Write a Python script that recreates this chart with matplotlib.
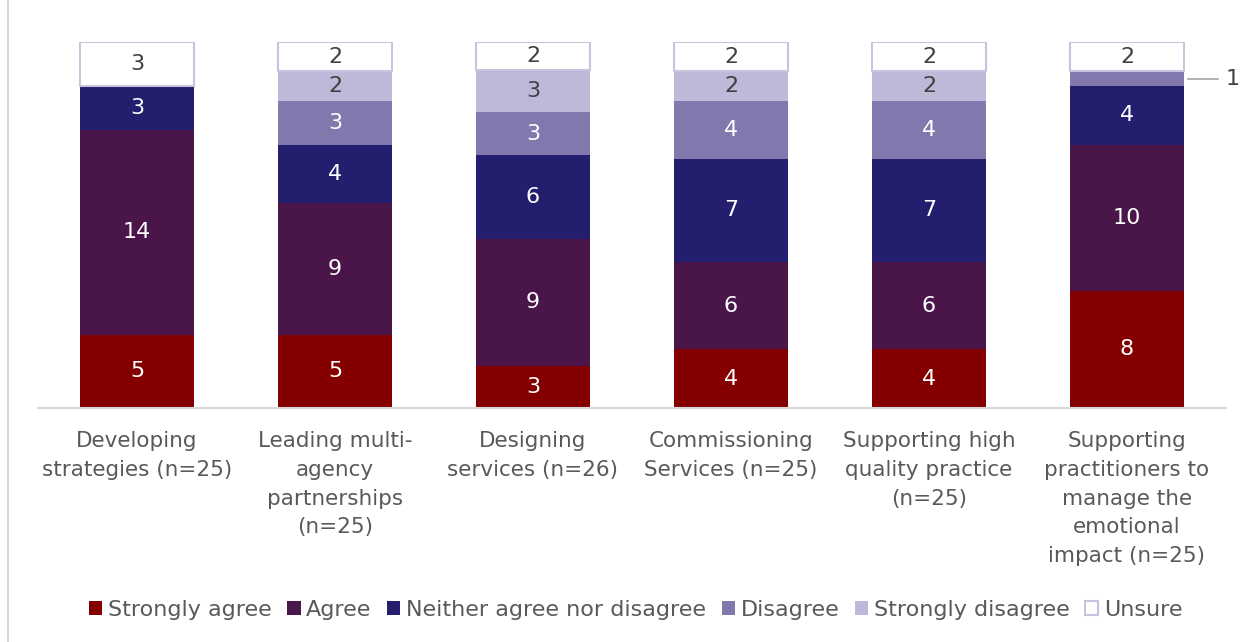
import matplotlib.pyplot as plt
import numpy as np
from matplotlib.patches import Rectangle

plt.rcParams['font.family'] = ['DejaVu Sans']

categories = [
    "Developing\nstrategies (n=25)",
    "Leading multi-\nagency\npartnerships\n(n=25)",
    "Designing\nservices (n=26)",
    "Commissioning\nServices (n=25)",
    "Supporting high\nquality practice\n(n=25)",
    "Supporting\npractitioners to\nmanage the\nemotional\nimpact (n=25)",
]
responses = ["Strongly agree", "Agree", "Neither agree nor disagree",
             "Disagree", "Strongly disagree", "Unsure"]
strongly_agree = [5, 5, 3, 4, 4, 8]
agree = [14, 9, 9, 6, 6, 10]
neither = [3, 4, 6, 7, 7, 4]
disagree = [0, 3, 3, 4, 4, 1]
strongly_disagree = [0, 2, 3, 2, 2, 0]
unsure = [3, 2, 2, 2, 2, 2]

colors = ["#840000", "#4A1548", "#231E6E", "#8278AE", "#BFB8D9", "#FFFFFF"]
label_colors = ["white", "white", "white", "white", "#404040", "#404040"]

series = np.array([strongly_agree, agree, neither, disagree,
                   strongly_disagree, unsure], dtype=float)
totals = series.sum(axis=0)
shares = series / totals

fig = plt.figure(figsize=(12.44, 6.42), dpi=100)
ax = fig.add_axes([0.0305, 0.3645, 0.955, 0.570])
x = np.arange(len(categories))
width = 0.575
bottom = np.zeros(len(categories))
for i, name in enumerate(responses):
    edge = "#C9C3E0" if name == "Unsure" else "none"
    lw = 1.5 if name == "Unsure" else 0
    ax.bar(x, shares[i], width, bottom=bottom, color=colors[i],
           edgecolor=edge, linewidth=lw, label=name)
    for j in range(len(categories)):
        v = series[i, j]
        if v == 0:
            continue
        yc = bottom[j] + shares[i, j] / 2
        if v == 1:
            # small slice: label outside with a leader line
            ax.plot([x[j] + width / 2 + 0.02, x[j] + width / 2 + 0.17], [yc, yc],
                    color="#A6A6A6", lw=1.2, clip_on=False)
            ax.text(x[j] + width / 2 + 0.245, yc, f"{int(v)}", ha="center",
                    va="center", fontsize=16, color="#404040")
        else:
            ax.text(x[j], yc, f"{int(v)}", ha="center", va="center",
                    fontsize=16, color=label_colors[i])
    bottom += shares[i]

ax.set_xlim(-0.5, len(categories) - 0.5)
ax.set_ylim(0, 1)
ax.set_xticks(x)
ax.set_xticklabels(categories, fontsize=15.5, color="#595959", linespacing=1.55)
ax.tick_params(axis="x", length=0, pad=16.5)
ax.set_yticks([])
for s in ["top", "right", "left"]:
    ax.spines[s].set_visible(False)
ax.spines["bottom"].set_color("#D9D9D9")
ax.spines["bottom"].set_linewidth(1.5)

handles, labels = ax.get_legend_handles_labels()
leg = fig.legend(handles, labels, loc="center", bbox_to_anchor=(0.511, 0.05),
                 ncol=6, frameon=False, fontsize=16, handlelength=0.6,
                 handleheight=0.6, handletextpad=0.25, columnspacing=0.7)
for t in leg.get_texts():
    t.set_color("#595959")

fig.patches.append(Rectangle((0.0065, -0.01), 1.0, 1.02, transform=fig.transFigure,
                             fill=False, edgecolor="#D9D9D9", linewidth=1.5))

fig.savefig("out.png", dpi=100)
